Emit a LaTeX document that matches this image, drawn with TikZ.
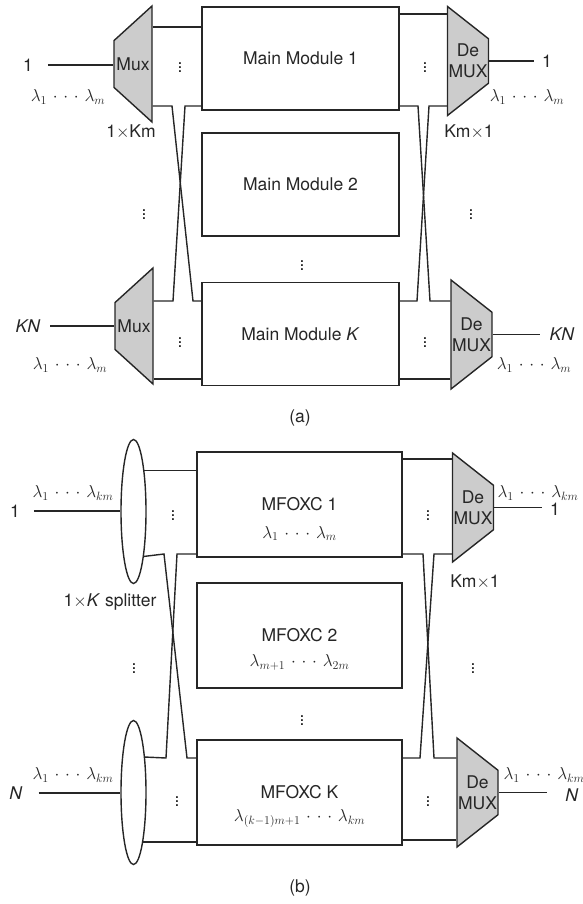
\documentclass[tikz,border=0pt]{standalone}
\usepackage{fontspec}
\setmainfont{TeX Gyre Heros}
\usetikzlibrary{shapes.geometric}
\tikzstyle{module}=[draw,minimum width=197,minimum height=103,inner sep=0pt]
\tikzstyle{mfoxc}=[draw,minimum width=205,minimum height=105,inner sep=0pt]
\tikzstyle{mux}=[draw,fill=gray!40,trapezium,trapezium stretches=true,shape border rotate=90,trapezium angle=53.6,minimum width=116,minimum height=38,inner sep=1pt]
\tikzstyle{demux}=[mux,shape border rotate=270,trapezium angle=54,minimum width=109,minimum height=41]
\tikzstyle{splitter}=[draw,ellipse,minimum width=25,minimum height=144,inner sep=0pt]
\tikzstyle{dots}=[inner sep=0pt]
\newcommand{\lrange}[2]{$\lambda_{#1}\mkern6mu{\cdot}\mkern6mu{\cdot}\mkern6mu{\cdot}\mkern6mu\lambda_{#2}$}

\begin{document}
\begin{tikzpicture}[x=1pt,y=-1pt,line width=1.4pt,color=black!85,
  every node/.style={font=\fontsize{17.5}{21}\selectfont}]
\useasboundingbox (0,0) rectangle (583,904);

% (a) K main modules behind muxes
\node[module] at (300.5, 58.5) (mm1) {Main Module 1};
\node[module] at (300.5, 184.5) (mm2) {Main Module 2};
\node[module] at (300.5, 334) (mmk) {Main Module \textit{K}};
\node[mux, label=center:Mux] at (133, 64) (mx1) {};
\node[mux, label=center:Mux] at (134, 326) (mxk) {};
\node[demux, label={[align=center]center:De\\MUX}] at (468, 61) (dm1) {};
\node[demux, label={[align=center]center:De\\MUX}] at (471.5, 334.5) (dmk) {};

\node at (28, 65) (a1) {1};
\node at (28, 326) (akn) {\textit{KN}};
\node at (547, 61) (b1) {1};
\node at (562, 334) (bkn) {\textit{KN}};
\node at (68, 97) {\lrange{1}{m}};
\node at (70, 365) {\lrange{1}{m}};
\node at (527, 97) {\lrange{1}{m}};
\node at (534, 365) {\lrange{1}{m}};
\node at (131, 132) {1$\times$Km};
\node at (469, 132) {Km$\times$1};

\draw[shorten <=11pt] (a1) -- (a1 -| mx1.west);
\draw[shorten <=6pt] (akn) -- (akn -| mxk.west);
\draw[shorten >=4pt] (dm1.east) -- (dm1.east -| b1.west);
\draw[shorten >=6pt] (dmk.east) -- (dmk.east -| bkn.west);

\draw (mx1.east |- 0,27) -- (mm1.west |- 0,27);
\draw (mx1.east |- 0,106) -- (172,106) -- (193,301) -- (mmk.west |- 0,301);
\draw (mxk.east |- 0,301) -- (173,301) -- (185,106) -- (mm1.west |- 0,106);
\draw (mxk.east |- 0,379) -- (mmk.west |- 0,379);
\draw (mm1.east |- 0,14) -- (dm1.west |- 0,14);
\draw (mm1.east |- 0,106) -- (418,106) -- (430,301) -- (dmk.west |- 0,301);
\draw (mmk.east |- 0,301) -- (417,301) -- (429,106) -- (dm1.west |- 0,106);
\draw (mmk.east |- 0,379) -- (dmk.west |- 0,379);

\node[dots] at (180, 65) {$\vdots$};
\node[dots] at (425, 65) {$\vdots$};
\node[dots] at (180, 340) {$\vdots$};
\node[dots] at (425, 340) {$\vdots$};
\node[dots] at (144, 212) {$\vdots$};
\node[dots] at (471, 212) {$\vdots$};
\node[dots] at (302, 263) {$\vdots$};
\node at (300, 418) {(a)};

% (b) splitters and MFOXCs
\node[mfoxc] at (299.5, 504.5) (mf1) {MFOXC 1};
\node[mfoxc] at (299.5, 635.5) (mf2) {MFOXC 2};
\node[mfoxc] at (299.5, 792.5) (mfk) {MFOXC K};
\node at ([yshift=-29pt]mf1.center) {\lrange{1}{m}};
\node at ([yshift=-27pt]mf2.center) {\lrange{m+1}{2m}};
\node at ([yshift=-26pt]mfk.center) {\lrange{(k-1)m+1}{km}};
\node[splitter] at (133.5, 511.5) (sp1) {};
\node[splitter] at (133.5, 792.5) (spk) {};
\node[demux, label={[align=center]center:De\\MUX}] at (473, 507.5) (dx1) {};
\node[demux, label={[align=center]center:De\\MUX}] at (477.5, 792.5) (dxk) {};

\node at (15, 511) (c1) {1};
\node at (16, 793) (cn) {\textit{N}};
\node at (555, 509) (d1) {1};
\node at (572, 795) (dn) {\textit{N}};
\node at (73, 493) {\lrange{1}{km}};
\node at (73, 775) {\lrange{1}{km}};
\node at (538, 493) {\lrange{1}{km}};
\node at (544, 775) {\lrange{1}{km}};
\node at (110, 602) {1$\times$\textit{K} splitter};
\node at (475, 582) {Km$\times$1};

\draw[shorten <=10pt] (c1) -- (c1 -| sp1.west);
\draw[shorten <=12pt] (cn) -- (cn -| spk.west);
\draw[shorten >=4pt] (dx1.east) -- (dx1.east -| d1.west);
\draw[shorten >=14pt] (dxk.east) -- (dxk.east -| dn.west);

\draw (sp1.75) -- (sp1.75 -| mf1.west);
\draw (sp1.-77) -- (164,554) -- (187,758) -- (mfk.west |- 0,758);
\draw (spk.72) -- (166,758) -- (177,554) -- (mf1.west |- 0,554);
\draw (spk.-79) -- (spk.-79 -| mfk.west);
\draw (mf1.east |- 0,459) -- (dx1.west |- 0,459);
\draw (mf1.east |- 0,554) -- (423,554) -- (434,758) -- (dxk.west |- 0,758);
\draw (mfk.east |- 0,758) -- (420,758) -- (434,554) -- (dx1.west |- 0,554);
\draw (mfk.east |- 0,840) -- (dxk.west |- 0,840);

\node[dots] at (173, 513) {$\vdots$};
\node[dots] at (428, 513) {$\vdots$};
\node[dots] at (177, 799) {$\vdots$};
\node[dots] at (428, 799) {$\vdots$};
\node[dots] at (134, 666) {$\vdots$};
\node[dots] at (473, 666) {$\vdots$};
\node[dots] at (302, 718) {$\vdots$};
\node at (300, 888) {(b)};
\end{tikzpicture}
\end{document}
